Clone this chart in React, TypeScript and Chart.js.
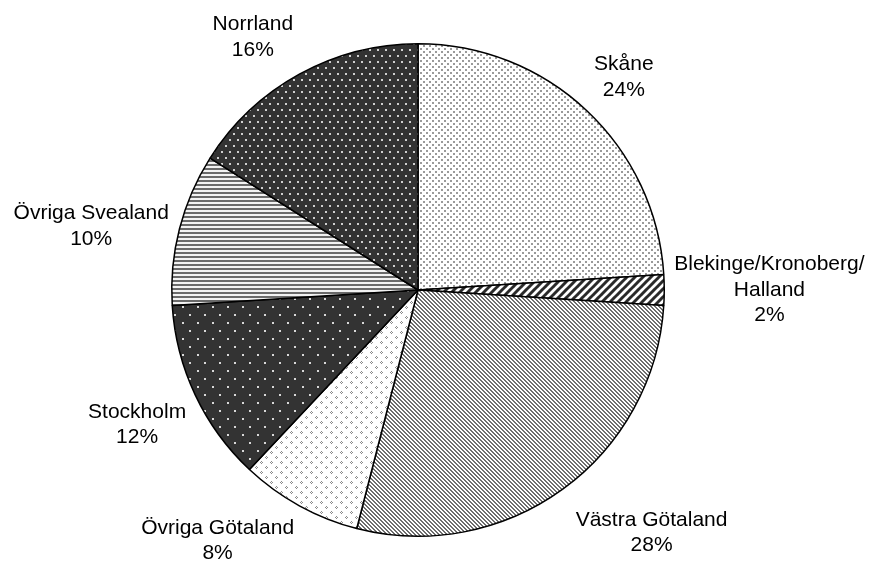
import React, { useEffect, useRef } from "react";
import { Chart, registerables } from "chart.js";

Chart.register(...registerables);

const categoryLines: string[][] = [
  ["Skåne"],
  ["Blekinge/Kronoberg/", "Halland"],
  ["Västra Götaland"],
  ["Övriga Götaland"],
  ["Stockholm"],
  ["Övriga Svealand"],
  ["Norrland"],
];
const shares: number[] = [24, 2, 28, 8, 12, 10, 16];
const labelGaps: number[] = [11, 10, 22, 11, 10, 11, 13];

function makeTile(w: number, h: number, draw: (c: CanvasRenderingContext2D) => void): CanvasPattern {
  const cv = document.createElement("canvas");
  cv.width = w;
  cv.height = h;
  const c = cv.getContext("2d")!;
  draw(c);
  const ctx = document.createElement("canvas").getContext("2d")!;
  return ctx.createPattern(cv, "repeat")!;
}

function buildPatterns(): CanvasPattern[] {
  const skane = makeTile(6, 6, (c) => {
    c.fillStyle = "#fff"; c.fillRect(0, 0, 6, 6);
    c.fillStyle = "#9a9a9a"; c.fillRect(0, 0, 2, 2); c.fillRect(3, 3, 2, 2);
  });
  const blek = makeTile(8, 8, (c) => {
    c.fillStyle = "#fff"; c.fillRect(0, 0, 8, 8);
    c.strokeStyle = "#2a2a2a"; c.lineWidth = 3;
    for (let k = -2; k <= 2; k++) {
      c.beginPath(); c.moveTo(k * 8 - 1, 9); c.lineTo(k * 8 + 9, -1); c.stroke();
    }
  });
  const vastra = makeTile(4, 4, (c) => {
    c.fillStyle = "#fff"; c.fillRect(0, 0, 4, 4);
    c.fillStyle = "#6e6e6e";
    for (let i = 0; i < 4; i++) { c.fillRect(i, i, 1, 1); c.fillRect((i + 1) % 4, i, 1, 1); }
  });
  const ovrGot = makeTile(10, 10, (c) => {
    c.fillStyle = "#fff"; c.fillRect(0, 0, 10, 10);
    c.fillStyle = "#8a8a8a";
    c.fillRect(1, 1, 1, 1); c.fillRect(0, 2, 1, 1); c.fillRect(1, 3, 1, 1); c.fillRect(2, 2, 1, 1);
    c.fillRect(6, 6, 1, 1); c.fillRect(5, 7, 1, 1); c.fillRect(6, 8, 1, 1); c.fillRect(7, 7, 1, 1);
  });
  const stock = makeTile(15, 16, (c) => {
    c.fillStyle = "#333"; c.fillRect(0, 0, 15, 16);
    c.fillStyle = "#d8d8d8"; c.fillRect(2, 2, 2, 2); c.fillRect(9, 10, 2, 2);
  });
  const svea = makeTile(4, 4, (c) => {
    c.fillStyle = "#f2f2f2"; c.fillRect(0, 0, 4, 4);
    c.fillStyle = "#6a6a6a"; c.fillRect(0, 0, 4, 2);
  });
  const norr = makeTile(8, 12, (c) => {
    c.fillStyle = "#333"; c.fillRect(0, 0, 8, 12);
    c.fillStyle = "#d0d0d0"; c.fillRect(1, 1, 2, 2); c.fillRect(5, 7, 2, 2);
  });
  return [skane, blek, vastra, ovrGot, stock, svea, norr];
}

function edgeFactor(v: number): number {
  const a = Math.min(Math.max((Math.abs(v) - 0.25) / 0.15, 0), 1);
  return Math.sign(v) * a;
}

const labelPlugin = {
  id: "outerLabels",
  afterDraw(chart: any) {
    const ctx: CanvasRenderingContext2D = chart.ctx;
    const meta = chart.getDatasetMeta(0);
    const total = shares.reduce((a, b) => a + b, 0);
    ctx.save();
    ctx.font = '21px "Liberation Sans", Arial, sans-serif';
    ctx.fillStyle = "#000";
    ctx.textAlign = "center";
    ctx.textBaseline = "middle";
    const lh = 25.5;
    meta.data.forEach((arc: any, i: number) => {
      const { x, y, startAngle, endAngle, outerRadius } = arc.getProps(["x", "y", "startAngle", "endAngle", "outerRadius"], true);
      const mid = (startAngle + endAngle) / 2;
      const ux = Math.cos(mid);
      const uy = Math.sin(mid);
      const lines = [...categoryLines[i], Math.round((shares[i] / total) * 100) + "%"];
      const w = Math.max(...lines.map((l) => ctx.measureText(l).width));
      const h = lines.length * lh;
      const r = outerRadius + labelGaps[i];
      const ax = x + ux * r;
      const ay = y + uy * r;
      const cx = ax + edgeFactor(ux) * w / 2;
      const cy = ay + edgeFactor(uy) * h / 2;
      lines.forEach((l, j) => {
        ctx.fillText(l, cx, cy - h / 2 + lh / 2 + j * lh);
      });
    });
    ctx.restore();
  },
};

export default function App() {
  const ref = useRef<HTMLCanvasElement>(null);
  useEffect(() => {
    document.body.style.margin = "0";
    const patterns = buildPatterns();
    const chart = new Chart(ref.current!, {
      type: "pie",
      data: {
        labels: categoryLines.map((l) => l.join("")),
        datasets: [
          {
            data: shares,
            backgroundColor: patterns as any,
            borderColor: "#000",
            borderWidth: 1.5,
            borderAlign: "center",
          },
        ],
      },
      options: {
        responsive: false,
        animation: false,
        events: [],
        layout: { padding: { left: 100, right: 133, top: 43, bottom: 26 } },
        plugins: { legend: { display: false }, tooltip: { enabled: false } },
      },
      plugins: [labelPlugin],
    });
    return () => chart.destroy();
  }, []);
  return (
    <div style={{ width: 869, height: 563, background: "#fff" }}>
      <canvas ref={ref} width={869} height={563} style={{ display: "block" }} />
    </div>
  );
}
